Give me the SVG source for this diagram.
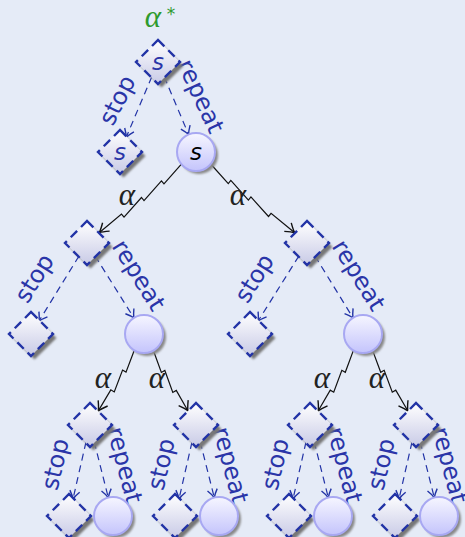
<svg xmlns="http://www.w3.org/2000/svg" width="465" height="537" viewBox="0 0 465 537">
<style>
.lbl{font-family:"DejaVu Sans",sans-serif;font-size:24px;fill:#2a35a8;text-anchor:middle}
.al{font-family:"Liberation Serif",serif;font-style:italic;font-size:31px;fill:#222;text-anchor:middle}
.sd{font-family:"DejaVu Sans",sans-serif;font-style:oblique;font-size:23px;fill:#2a35a8;text-anchor:middle}
.sc{font-family:"DejaVu Sans",sans-serif;font-style:oblique;font-size:23px;fill:#000;text-anchor:middle}
.dia{fill:url(#dg);stroke:#2233a6;stroke-width:2.4;stroke-dasharray:9 5.5}
.dsh{fill:#777;filter:url(#bl)}
.cir{fill:url(#cg);stroke:#a8a8f2;stroke-width:2}
.csh{fill:#888;filter:url(#bl)}
.zz{fill:none;stroke:#111;stroke-width:1.2;marker-end:url(#ak)}
.dl{fill:none;stroke:#2233a6;stroke-width:1.2;stroke-dasharray:7 5;marker-end:url(#abl)}
</style>
<defs>
<linearGradient id="dg" x1="0" y1="0" x2="0" y2="1"><stop offset="0" stop-color="#ffffff"/><stop offset="1" stop-color="#c8cae6"/></linearGradient>
<linearGradient id="cg" x1="0" y1="0" x2="0" y2="1"><stop offset="0" stop-color="#f6f6ff"/><stop offset="1" stop-color="#c4c4fc"/></linearGradient>
<filter id="bl" x="-30%" y="-30%" width="160%" height="160%"><feGaussianBlur stdDeviation="1"/></filter>
<marker id="ak" viewBox="-11 -7 12 14" refX="0" refY="0" markerWidth="12" markerHeight="14" markerUnits="userSpaceOnUse" orient="auto"><path d="M-9,-5.5 Q-3,-1.2 0,0 Q-3,1.2 -9,5.5" fill="none" stroke="#111" stroke-width="1.4"/></marker>
<marker id="abl" viewBox="-11 -7 12 14" refX="0" refY="0" markerWidth="12" markerHeight="14" markerUnits="userSpaceOnUse" orient="auto"><path d="M-8,-5 Q-3,-1.2 0,0 Q-3,1.2 -8,5" fill="none" stroke="#2233a6" stroke-width="1.4"/></marker>
<g id="D"><polygon class="dsh" points="3.5,-17.5 25.5,4 3.5,25.5 -17.5,4"/><polygon class="dia" points="0,-22 22,0 0,22 -22,0"/></g>
<g id="C"><circle class="csh" cx="3" cy="3" r="19"/><circle class="cir" cx="0" cy="0" r="19"/></g>
</defs>
<rect width="465" height="537" fill="#e5ebf7"/>
<g id="connectors">
<path class="zz" transform="translate(181.4,164.2) rotate(140.2)" d="M0,0 L26,-4 L26,0 L52,-4 L52,0 L78,-4 L78,0 L107,0"/>
<path class="zz" transform="translate(210.7,164) rotate(39.3)" d="M0,0 L26,4 L26,0 L52,4 L52,0 L78,4 L78,0 L108.6,0"/>
<path class="zz" transform="translate(134.3,350.3) rotate(120.7)" d="M0,0 L23,-4 L23,0 L46,-4 L46,0 L70.5,0"/>
<path class="zz" transform="translate(153.4,350.5) rotate(60.2)" d="M0,0 L23,4 L23,0 L46,4 L46,0 L69.4,0"/>
<path class="zz" transform="translate(353.4,350.4) rotate(120.2)" d="M0,0 L23,-4 L23,0 L46,-4 L46,0 L69.9,0"/>
<path class="zz" transform="translate(372.6,350.4) rotate(59.8)" d="M0,0 L23,4 L23,0 L46,4 L46,0 L69.9,0"/>
<path class="dl" d="M151.8,76.7 L126.2,137.3"/>
<path class="dl" d="M164.2,76.7 L188.6,134.5"/>
<path class="dl" d="M79,256 L39,321"/>
<path class="dl" d="M95.1,256 L133.9,317.9"/>
<path class="dl" d="M298.9,256 L258.1,321"/>
<path class="dl" d="M315,256 L353,317.8"/>
<path class="dl" d="M86,442 L73,499"/>
<path class="dl" d="M94.2,441.8 L108.3,497.6"/>
<path class="dl" d="M192,442 L179,499"/>
<path class="dl" d="M200.2,441.8 L214.3,497.6"/>
<path class="dl" d="M306,442 L293,499"/>
<path class="dl" d="M314.2,441.8 L328.3,497.6"/>
<path class="dl" d="M412,442 L399,499"/>
<path class="dl" d="M420.2,441.8 L434.3,497.6"/>
</g>
<g id="edge-labels">
<text class="lbl" transform="translate(117,100) rotate(-63)" dy="0.35em">stop</text>
<text class="lbl" transform="translate(201,96) rotate(65)" dy="0.35em">repeat</text>
<text class="lbl" transform="translate(34,278) rotate(-58)" dy="0.35em">stop</text>
<text class="lbl" transform="translate(139,275) rotate(58)" dy="0.35em">repeat</text>
<text class="lbl" transform="translate(254,278) rotate(-58)" dy="0.35em">stop</text>
<text class="lbl" transform="translate(359,275) rotate(58)" dy="0.35em">repeat</text>
<text class="lbl" transform="translate(55,464) rotate(-77)" dy="0.35em">stop</text>
<text class="lbl" transform="translate(125,465) rotate(75)" dy="0.35em">repeat</text>
<text class="lbl" transform="translate(161,464) rotate(-77)" dy="0.35em">stop</text>
<text class="lbl" transform="translate(231,465) rotate(75)" dy="0.35em">repeat</text>
<text class="lbl" transform="translate(275,464) rotate(-77)" dy="0.35em">stop</text>
<text class="lbl" transform="translate(345,465) rotate(75)" dy="0.35em">repeat</text>
<text class="lbl" transform="translate(381,464) rotate(-77)" dy="0.35em">stop</text>
<text class="lbl" transform="translate(450,465) rotate(75)" dy="0.35em">repeat</text>
<text class="al" x="127" y="205">α</text>
<text class="al" x="238" y="205">α</text>
<text class="al" x="103" y="388">α</text>
<text class="al" x="157" y="388">α</text>
<text class="al" x="322" y="388">α</text>
<text class="al" x="377" y="388">α</text>
</g>
<g id="root"><use href="#D" x="158" y="62"/><text class="sd" x="158" y="70">s</text>
<text x="153" y="27" font-family="Liberation Serif,serif" font-style="italic" font-size="31" fill="#2e9a2e" text-anchor="middle">α</text>
<text x="171" y="20" font-family="DejaVu Sans,sans-serif" font-size="17" fill="#2e9a2e" text-anchor="middle">*</text></g>
<g id="stop0"><use href="#D" x="120" y="152"/><text class="sd" x="120" y="160">s</text></g>
<g id="rep0"><use href="#C" x="196" y="152"/><text class="sc" x="196" y="160">s</text></g>
<g id="n1L"><use href="#D" x="87" y="243"/></g>
<g id="n1R"><use href="#D" x="307" y="243"/></g>
<g id="stop1L"><use href="#D" x="31" y="334"/></g>
<g id="rep1L"><use href="#C" x="144" y="334"/></g>
<g id="stop1R"><use href="#D" x="250" y="334"/></g>
<g id="rep1R"><use href="#C" x="363" y="334"/></g>
<g id="n2a"><use href="#D" x="90" y="425"/></g>
<g id="n2b"><use href="#D" x="196" y="425"/></g>
<g id="n2c"><use href="#D" x="310" y="425"/></g>
<g id="n2d"><use href="#D" x="416" y="425"/></g>
<g id="stop2a"><use href="#D" x="69" y="516"/></g>
<g id="rep2a"><use href="#C" x="113" y="516"/></g>
<g id="stop2b"><use href="#D" x="175" y="516"/></g>
<g id="rep2b"><use href="#C" x="219" y="516"/></g>
<g id="stop2c"><use href="#D" x="289" y="516"/></g>
<g id="rep2c"><use href="#C" x="333" y="516"/></g>
<g id="stop2d"><use href="#D" x="395" y="516"/></g>
<g id="rep2d"><use href="#C" x="439" y="516"/></g>
</svg>
